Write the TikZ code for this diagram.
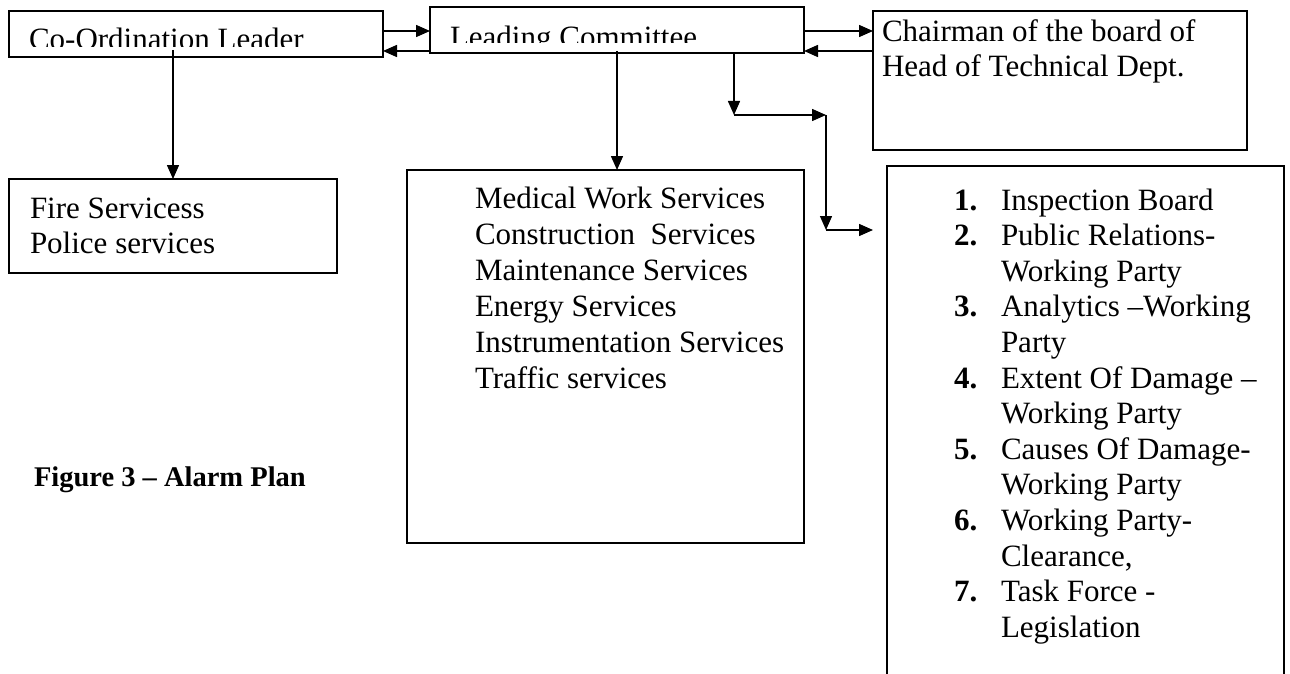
\documentclass[tikz,border=0pt]{standalone}
\usepackage{fontspec}
\setmainfont{Liberation Serif}
\usetikzlibrary{arrows.meta}
\newcommand\rowstack[2]{\vtop{\baselineskip=#1\lineskiplimit=-1000pt\lineskip=0pt\halign{##\hfil\cr#2\crcr}}}
\newcommand\numstack[2]{\vtop{\baselineskip=#1\lineskiplimit=-1000pt\lineskip=0pt\halign{\hbox to 47pt{\bfseries##\hfil}&##\hfil\cr#2\crcr}}}
\begin{document}
\begin{tikzpicture}[x=1pt,y=-1pt,
  box/.style={draw,line width=1.6pt,anchor=north west,inner sep=0pt,outer sep=0pt},
  txt/.style={anchor=base west,inner sep=0pt,outer sep=0pt,font=\fontsize{31}{36}\selectfont},
  captxt/.style={anchor=base west,inner sep=0pt,outer sep=0pt,font=\fontsize{28.5}{34}\selectfont\bfseries},
  arr/.style={line width=1.5pt,-{Triangle[length=14pt,width=12pt]}}]
\useasboundingbox (0,0) rectangle (1290,674);
\fill[white] (0,0) rectangle (1290,674);

% boxes
\node[box,minimum width=374pt,minimum height=46pt] (co) at (9,11) {};
\node[box,minimum width=374pt,minimum height=46pt] (lead) at (430,7) {};
\node[box,minimum width=374pt,minimum height=139pt] (chair) at (873,11) {};
\node[box,minimum width=328pt,minimum height=94pt] (fire) at (9,179) {};
\node[box,minimum width=397pt,minimum height=373pt] (med) at (407,170) {};
\node[anchor=north west,inner sep=0pt,outer sep=0pt,minimum width=397pt,minimum height=508pt] (list) at (887,166) {};
\draw[line width=1.6pt] (list.south west) -- (list.north west) -- (list.north east) -- (list.south east);

% clipped titles
\begin{scope}
\clip (co.north west) rectangle (383,47);
\node[txt] (cot) at (29,49.5) {Co-Ordination Leader};
\end{scope}
\begin{scope}
\clip (lead.north west) rectangle (804,43);
\node[txt] (leadt) at (450,47.5) {Leading Committee};
\end{scope}

% texts
\node[txt] (chairt) at (882,42) {\rowstack{35pt}{Chairman of the board of\cr Head of Technical Dept.}};
\node[txt] (firet) at (30,218) {\rowstack{35pt}{Fire Servicess\cr Police services}};
\node[txt] (medt) at (475,208) {\rowstack{36pt}{Medical Work Services\cr Construction\ \ Services\cr Maintenance Services\cr Energy Services\cr Instrumentation Services\cr Traffic services}};
\node[txt] (listt) at (954,210) {\numstack{35.6pt}{1.&Inspection Board\cr 2.&Public Relations-\cr &Working Party\cr 3.&Analytics –Working\cr &Party\cr 4.&Extent Of Damage –\cr &Working Party\cr 5.&Causes Of Damage-\cr &Working Party\cr 6.&Working Party-\cr &Clearance,\cr 7.&Task Force -\cr &Legislation}};
\node[captxt] (capt) at (34,486) {Figure 3 – Alarm Plan};

% connectors
\draw[arr] (co.east |- 0,31) -- (lead.west |- 0,31);
\draw[arr] (lead.west |- 0,51) -- (co.east |- 0,51);
\draw[arr] (lead.east |- 0,31) -- (chair.west |- 0,31);
\draw[arr] (chair.west |- 0,51) -- (lead.east |- 0,51);

\coordinate (cs) at (173,50);
\draw[arr] (cs) -- (cs |- fire.north);
\coordinate (ls) at (617,51);
\draw[arr] (ls) -- (ls |- med.north);

\coordinate (b1) at (734,115);
\coordinate (b2) at (826,115);
\coordinate (b3) at (826,230);
\coordinate (b4) at (873,230);
\draw[arr] (lead.south -| b1) -- (b1);
\draw[arr] (b1) -- (b2);
\draw[arr] (b2) -- (b3);
\draw[arr] (b3) -- (b4);
\end{tikzpicture}
\end{document}
